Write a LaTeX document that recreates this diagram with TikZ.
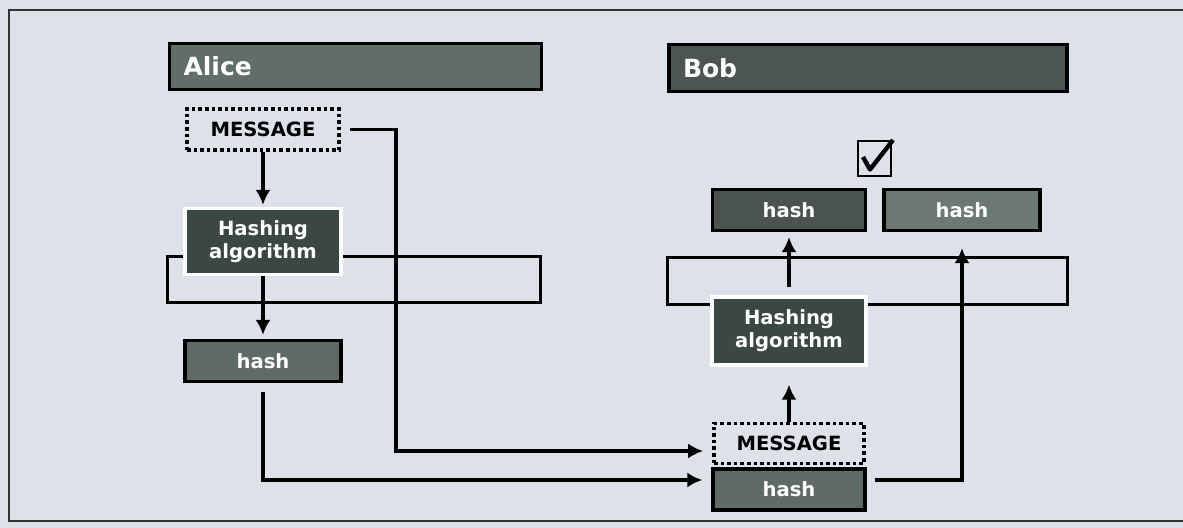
\documentclass[tikz,border=0pt]{standalone}
\usepackage{fontspec}
\setmainfont{DejaVu Sans}
\usetikzlibrary{arrows.meta}
\definecolor{slidebg}{HTML}{DCE1EA}
\definecolor{headgray}{HTML}{616D68}
\definecolor{headdark}{HTML}{4C5550}
\definecolor{algogreen}{HTML}{3B4742}
\definecolor{hashgray}{HTML}{5F6B66}
\definecolor{hashdark}{HTML}{4A5350}
\definecolor{hashlight}{HTML}{6C7873}

\begin{document}
\begin{tikzpicture}[
  x=0.5pt,y=-0.5pt,
  head/.style={draw=black,line width=1.6pt,fill=headgray,text=white,font=\fontsize{12.5}{14}\selectfont\bfseries,minimum height=23pt,inner xsep=7pt,align=left},
  msgbox/.style={draw=black,line width=1.8pt,dash pattern=on 1.8pt off 1.5pt,font=\fontsize{9.8}{11}\selectfont\bfseries,minimum width=76pt,minimum height=20.5pt,inner sep=0pt},
  algo/.style={draw=white,line width=1.6pt,fill=algogreen,text=white,font=\fontsize{9.8}{11.5}\selectfont\bfseries,align=center,minimum width=77pt,minimum height=34pt,inner sep=0pt},
  hashbox/.style={draw=black,line width=1.6pt,fill=hashgray,text=white,font=\fontsize{9.8}{11}\selectfont\bfseries,minimum width=76.5pt,minimum height=20.5pt,inner sep=0pt},
  chk/.style={draw=black,line width=1.1pt,minimum width=16.5pt,minimum height=17.5pt,inner sep=0pt},
  arr/.style={-{Latex[length=7.5pt,width=7.5pt]},line width=1.9pt},
  bracket/.style={line width=1.5pt}
]
\useasboundingbox (0,0) rectangle (1183,528);
\fill[slidebg] (0,0) rectangle (1183,528);
\draw[line width=1pt,draw=black!80] (1183,10) -- (9,10) -- (9,521) -- (1183,521);

% open frames behind the hashing boxes
\draw[bracket] (167,257) rectangle (540,303);
\draw[bracket] (667,258) rectangle (1067,305);

% Alice
\node[head,text width=172pt] (alice) at (355.5,66.5) {Alice};
\node[msgbox] (msgA) at (263,129.5) {MESSAGE};
\node[algo,minimum width=78pt,minimum height=33pt] (algA) at (263,241.5) {Hashing\\algorithm};
\node[hashbox,minimum width=78pt] (hashA) at (263,361) {hash};

% Bob
\node[head,fill=headdark,text width=185pt,minimum height=23.5pt] (bob) at (868,68) {Bob};
\node[chk] (check) at (874.5,158.5) {};
\draw[line width=2.2pt,line join=round] ([shift={(-5.75pt,0.75pt)}]check.center)
  -- ([shift={(-2.25pt,-5.5pt)}]check.center) -- ([shift={(9.25pt,9.25pt)}]check.center);
\node[hashbox,fill=hashdark] (hashB1) at (789,210) {hash};
\node[hashbox,fill=hashlight,minimum width=78pt] (hashB2) at (962,210) {hash};
\node[algo] (algB) at (789,331) {Hashing\\algorithm};
\node[msgbox,minimum width=75pt,minimum height=20pt] (msgB) at (789,443.5) {MESSAGE};
\node[hashbox,minimum width=76pt] (hashB) at (789,489.5) {hash};

\coordinate (turnA) at (396,451);
\coordinate (turnB) at (263,480);
\coordinate (turnC) at (962,480);

\draw[arr,shorten >=1pt] (msgA.south) -- (algA.north);
\draw[arr,shorten >=2pt] (algA.south) -- (hashA.north);
\draw[arr,shorten <=4.5pt,shorten >=4.5pt] (msgA.east) -| (turnA) -- (msgB.west |- turnA);
\draw[arr,shorten <=4.5pt,shorten >=4.5pt] (hashA.south) -- (turnB) -- (hashB.west |- turnB);
\draw[arr,shorten >=9pt] (msgB.north) -- (algB.south);
\draw[arr,shorten <=4pt,shorten >=2.5pt] (algB.north) -- (hashB1.south);
\draw[arr,shorten <=4pt,shorten >=8pt] (hashB.east |- turnC) -- (turnC) -- (hashB2.south);
\end{tikzpicture}
\end{document}
